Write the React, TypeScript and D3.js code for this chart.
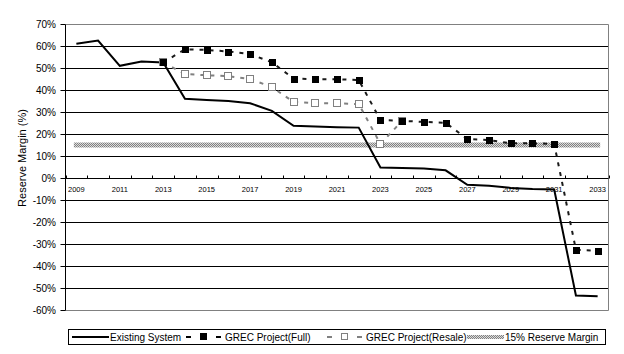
import { useEffect, useRef } from 'react'
import * as d3 from 'd3'

const years = [
  2009, 2010, 2011, 2012, 2013, 2014, 2015, 2016, 2017, 2018, 2019, 2020, 2021,
  2022, 2023, 2024, 2025, 2026, 2027, 2028, 2029, 2030, 2031, 2032, 2033,
]
const xLabels = [2009, 2011, 2013, 2015, 2017, 2019, 2021, 2023, 2025, 2027, 2029, 2031, 2033]
const yTicks = [70, 60, 50, 40, 30, 20, 10, 0, -10, -20, -30, -40, -50, -60]

// reserve margin, %
const existingSystem = [
  61, 62.5, 51, 53, 52.5, 36, 35.5, 35, 34, 30.5, 23.7, 23.4, 23.1, 22.9, 4.8, 4.5,
  4.3, 3.5, -3.1, -3.5, -4.5, -5, -5.2, -53.4, -53.8,
]
const grecFull = [
  null, null, null, null, 52.5, 58.5, 58.2, 57.5, 56.3, 52.6, 45.2, 44.9, 44.9, 44.5,
  26.4, 26.0, 25.5, 25.1, 17.7, 17.2, 15.8, 15.8, 15.5, -32.6, -33.1,
]
const grecResale = [
  null, null, null, null, 52.5, 47.3, 46.7, 46.3, 45.0, 41.3, 34.6, 34.0, 34.0, 33.6,
  15.5, 26.0, null, null, null, null, null, null, null, null, null,
]
const reserveMargin = 15

const FONT = '"Liberation Sans", Arial, sans-serif'

export default function App() {
  const ref = useRef<SVGSVGElement | null>(null)

  useEffect(() => {
    if (!ref.current) return
    const svg = d3.select(ref.current)
    svg.selectAll('*').remove()

    const x = d3.scaleBand<number>().domain(years).range([65.5, 608.5])
    const cx = (yr: number) => (x(yr) as number) + x.bandwidth() / 2
    const y = d3.scaleLinear().domain([-60, 70]).range([310, 24])
    const py = (v: number) => Math.round(y(v)) + 0.5

    const defs = svg.append('defs')
    const pat = defs
      .append('pattern')
      .attr('id', 'dots')
      .attr('width', 2)
      .attr('height', 2)
      .attr('patternUnits', 'userSpaceOnUse')
    pat.append('rect').attr('width', 2).attr('height', 2).attr('fill', '#dcdcdc')
    pat.append('rect').attr('width', 1).attr('height', 1).attr('fill', '#808080')
    pat.append('rect').attr('x', 1).attr('y', 1).attr('width', 1).attr('height', 1).attr('fill', '#808080')

    svg.append('rect').attr('width', 624).attr('height', 354).attr('fill', '#fff')

    // gridlines
    svg
      .append('g')
      .selectAll('line')
      .data(yTicks.filter((v) => v !== 70 && v !== -60 && v !== 0))
      .join('line')
      .attr('x1', 65.5)
      .attr('x2', 608.5)
      .attr('y1', (d) => py(d))
      .attr('y2', (d) => py(d))
      .attr('stroke', '#000')

    // plot border (gray)
    svg
      .append('path')
      .attr('d', `M65.5,${py(70)}H608.5V${py(-60)}H65.5`)
      .attr('fill', 'none')
      .attr('stroke', '#808080')

    // y axis
    svg.append('line').attr('x1', 65.5).attr('x2', 65.5).attr('y1', py(70)).attr('y2', py(-60)).attr('stroke', '#000')
    svg
      .append('g')
      .selectAll('line')
      .data(yTicks)
      .join('line')
      .attr('x1', 60.5)
      .attr('x2', 65.5)
      .attr('y1', (d) => py(d))
      .attr('y2', (d) => py(d))
      .attr('stroke', '#000')
    svg
      .append('g')
      .selectAll('text')
      .data(yTicks)
      .join('text')
      .attr('x', 56)
      .attr('y', (d) => y(d) + 3.5)
      .attr('text-anchor', 'end')
      .style('font-family', FONT)
      .style('font-size', '10px')
      .text((d) => `${d}%`)

    svg
      .append('text')
      .attr('transform', 'translate(26,158) rotate(-90)')
      .attr('text-anchor', 'middle')
      .style('font-family', FONT)
      .style('font-size', '11px')
      .text('Reserve Margin (%)')

    // x axis at 0%
    const y0 = py(0)
    svg.append('line').attr('x1', 65.5).attr('x2', 608.5).attr('y1', y0).attr('y2', y0).attr('stroke', '#000')
    svg
      .append('g')
      .selectAll('line')
      .data(years.map((yr) => x(yr) as number).concat([608.5]))
      .join('line')
      .attr('x1', (d) => Math.round(d) + 0.5)
      .attr('x2', (d) => Math.round(d) + 0.5)
      .attr('y1', y0 - 3)
      .attr('y2', y0)
      .attr('stroke', '#000')
    svg
      .append('g')
      .selectAll('text')
      .data(xLabels)
      .join('text')
      .attr('x', (d) => cx(d))
      .attr('y', y0 + 13)
      .attr('text-anchor', 'middle')
      .style('font-family', FONT)
      .style('font-size', '7.5px')
      .text((d) => d)

    const line = d3
      .line<number | null>()
      .defined((d) => d != null)
      .x((_, i) => cx(years[i]))
      .y((d) => y(d as number))

    // 15% reserve margin band
    svg
      .append('line')
      .attr('x1', cx(years[0]))
      .attr('x2', cx(years[years.length - 1]))
      .attr('y1', y(reserveMargin))
      .attr('y2', y(reserveMargin))
      .attr('stroke', 'url(#dots)')
      .attr('stroke-width', 5)
      .attr('stroke-linecap', 'square')

    svg
      .append('path')
      .attr('d', line(existingSystem))
      .attr('fill', 'none')
      .attr('stroke', '#000')
      .attr('stroke-width', 2)

    svg
      .append('path')
      .attr('d', line(grecResale))
      .attr('fill', 'none')
      .attr('stroke', '#808080')
      .attr('stroke-width', 2)
      .attr('stroke-dasharray', '4,6')

    svg
      .append('path')
      .attr('d', line(grecFull))
      .attr('fill', 'none')
      .attr('stroke', '#1a1a1a')
      .attr('stroke-width', 2)
      .attr('stroke-dasharray', '4,6')

    const resalePts = grecResale.map((v, i) => ({ v, yr: years[i] })).filter((d) => d.v != null)
    svg
      .append('g')
      .selectAll('rect')
      .data(resalePts)
      .join('rect')
      .attr('x', (d) => Math.round(cx(d.yr)) - 3.5)
      .attr('y', (d) => Math.round(y(d.v as number)) - 3.5)
      .attr('width', 7)
      .attr('height', 7)
      .attr('fill', '#fff')
      .attr('stroke', '#808080')

    const fullPts = grecFull.map((v, i) => ({ v, yr: years[i] })).filter((d) => d.v != null)
    svg
      .append('g')
      .selectAll('rect')
      .data(fullPts)
      .join('rect')
      .attr('x', (d) => Math.round(cx(d.yr)) - 3)
      .attr('y', (d) => Math.round(y(d.v as number)) - 3)
      .attr('width', 7)
      .attr('height', 7)
      .attr('fill', '#000')

    // legend
    const lg = svg.append('g')
    lg.append('rect').attr('x', 68.5).attr('y', 329.5).attr('width', 537).attr('height', 15).attr('fill', '#fff').attr('stroke', '#000')
    const ly = 337
    lg.append('line').attr('x1', 72).attr('x2', 109).attr('y1', ly).attr('y2', ly).attr('stroke', '#000').attr('stroke-width', 2)

    const sample = (x0: number, color: string, fill: string) => {
      lg.append('line').attr('x1', x0).attr('x2', x0 + 5).attr('y1', ly).attr('y2', ly).attr('stroke', color).attr('stroke-width', 2)
      lg.append('line').attr('x1', x0 + 30).attr('x2', x0 + 35).attr('y1', ly).attr('y2', ly).attr('stroke', color).attr('stroke-width', 2)
      lg.append('rect')
        .attr('x', x0 + 14.5)
        .attr('y', ly - 3.5)
        .attr('width', 6)
        .attr('height', 6)
        .attr('fill', fill)
        .attr('stroke', fill === '#000' ? '#000' : color)
    }
    sample(186, '#000', '#000')
    sample(327, '#808080', '#fff')

    lg.append('rect').attr('x', 467).attr('y', ly - 2).attr('width', 37).attr('height', 4).attr('fill', 'url(#dots)')

    const labels: [number, string][] = [
      [110, 'Existing System'],
      [225, 'GREC Project(Full)'],
      [366, 'GREC Project(Resale)'],
      [505, '15% Reserve Margin'],
    ]
    lg.selectAll('text')
      .data(labels)
      .join('text')
      .attr('x', (d) => d[0])
      .attr('y', ly + 3.5)
      .style('font-family', FONT)
      .style('font-size', '10px')
      .text((d) => d[1])
  }, [])

  return (
    <svg
      ref={ref}
      width={624}
      height={354}
      style={{ position: 'absolute', left: 0, top: 0, display: 'block' }}
    />
  )
}
